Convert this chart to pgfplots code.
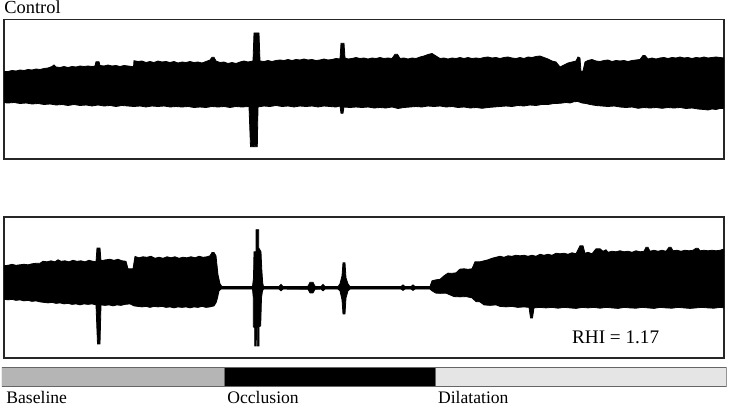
\documentclass[border=0pt]{standalone}
\usepackage{fontspec}
\setmainfont{Liberation Serif}
\usepackage{pgfplots}
\pgfplotsset{compat=1.18}
\usepgfplotslibrary{fillbetween}

% 1 px of the reference = 0.5pt
\pgfplotsset{
  trace/.style={
    scale only axis, width=360pt, xmin=4, xmax=724,
    ticks=none, axis line style={black!85, line width=0.9pt},
    anchor=south west,
  },
  env/.style={black, line width=0.4pt},
}

\begin{document}
\begin{tikzpicture}

% ---- Control ----
\begin{axis}[trace, height=69.75pt, at={(2pt,-79.5pt)}, ymin=-71, ymax=68.5]
\addplot[env, name path=up] table {
x y
4 16.3
8 16.5
12 17.5
16 17
20 18
24 17.5
28 18.5
32 18
36 19
40 18.5
44 19.5
48 20
52 21.5
54 23
56 21
60 20.5
64 21.5
68 20.5
72 21.5
76 21
80 22
84 21.5
88 22
92 21.5
95 22
96 26.3
99 26.3
100 22.5
104 22
108 23
112 22
116 22.5
120 21.5
124 22.5
128 22
132 21.5
133.5 21
134 27.3
138 26.5
142 27
146 25.5
150 26.5
154 25.5
158 27
162 26
166 26.5
170 25.5
174 26.5
178 25
182 26
186 25.5
190 26.5
194 25.5
198 26
202 25
206 26.5
210 28
212 30.7
214 30.7
216 27
220 25.5
224 26
228 24.5
232 25.5
236 24.5
240 26
244 27
248 26
253 27
254 55
259 55
260 27
264 26.5
268 27.5
272 26.5
276 27.5
280 28
284 27.5
288 28.5
292 27.5
296 28.5
300 28
304 29
308 28
312 28.5
316 27.5
320 28
324 29
328 28
332 28.5
336 29.5
340 29
341 44.7
344 44.7
345 30
348 29
352 29.5
356 30.5
360 29.5
364 30
368 29
372 30
376 29.5
380 30.5
384 29.5
388 30
392 29.5
395 33.7
397.5 33.7
400 29.5
404 30
408 29
412 30
416 29.5
420 31
424 32
428 33.5
432 34.5
436 32
440 29.5
444 30
448 29
452 30
456 29.5
460 30.5
464 29.5
468 30.5
472 29.5
476 30
480 29.5
484 30.5
488 31
492 30
496 30.5
500 29.5
504 30.5
508 31
512 30
516 29.5
520 30.5
524 29.5
528 31
532 30.5
536 31.5
540 32
544 30.5
548 29
552 27
556 26
560 21
564 23
568 25
572 26
576 27
578 31
580 30
581 16.3
583 17
585 26
588 27.5
592 28.5
596 27
600 26.5
604 27.5
608 28
612 26.5
616 27.5
620 27
624 27.5
628 26.5
632 27.5
636 28
640 28.5
643 32.5
645 32.5
648 29
652 30
656 29
660 30
664 30.5
668 29.5
672 30.5
676 30
680 31
684 30
688 30.5
692 29.5
696 30.5
700 30
704 31
708 30
712 30.5
716 31
720 30.5
724 30
};
\addplot[env, name path=lo] table {
x y
4 -14.7
8 -15
14 -14.5
20 -15.5
26 -15
32 -16
38 -15.5
44 -16.5
50 -16
56 -17
62 -16.5
68 -17.5
74 -16.5
80 -17.5
86 -17
92 -18
98 -17
104 -18
110 -17.5
116 -18.5
122 -17.5
128 -18
134 -18.5
140 -18
146 -19
152 -18
158 -18.5
164 -18
170 -19
176 -18.5
182 -19
188 -18.5
194 -19.5
200 -19
206 -19.5
212 -18.5
218 -19
224 -18.5
230 -19.5
236 -18.5
242 -19
249 -18.5
250.5 -58.7
253.3 -58.7
253.8 -40
254.3 -58.7
257.3 -58.7
258 -19
264 -18
270 -18.5
276 -17.5
282 -18.5
288 -18
294 -19
300 -18
306 -18.5
312 -18
318 -19
324 -18
330 -18.5
336 -19
340 -18
341 -25.3
343 -25.3
344 -19
350 -19.5
356 -19
362 -19.5
368 -19
374 -20
380 -19.5
386 -20
392 -19
398 -20.5
404 -19.5
410 -19
416 -18.5
422 -19
428 -18
434 -18.5
440 -18
446 -19
452 -18.5
458 -19.5
464 -19
470 -20
476 -19.5
482 -20.3
488 -19.5
494 -19
500 -18.5
506 -18
512 -18.5
518 -17.5
524 -18
530 -17
536 -17.5
542 -16.5
548 -16.5
554 -15.5
560 -15.3
566 -14.5
570 -15
574 -13.7
578 -13.5
582 -15
586 -15.5
590 -16.5
596 -17.5
602 -18
608 -18.5
614 -18
620 -19
626 -19.5
632 -19
638 -20.3
644 -19.5
650 -20
656 -19.5
662 -20.3
668 -19.5
674 -20
680 -19.5
686 -20.5
692 -20
698 -21
704 -21.5
708 -22
712 -21
716 -21.5
720 -20.5
724 -20.3
};
\addplot[black] fill between[of=up and lo];
\end{axis}

% ---- RHI panel ----
\begin{axis}[trace, height=70.5pt, at={(2pt,-178.85pt)}, ymin=-69.7, ymax=71]
\addplot[env, name path=up] table {
x y
4 22
8 22.5
12 23.5
16 22.5
20 23
24 23.5
28 23
32 24
36 24.5
40 24.5
43 26.5
47 26
51 27
55 26
58 28
61 26.5
65 27
69 26
73 27.5
77 26.5
81 27
85 26
89 27.5
93 26.5
96 26
97 39.7
100 39.7
101 27
106 28
110 28.5
114 27.5
118 28.5
122 27
126 26.5
128 19
133 19
135 31.3
139 30
143 31
147 30.5
151 31.5
155 29.5
159 30.5
163 29.5
167 31
171 30
175 31
179 29.5
183 30.5
187 30
191 31
195 30
199 31.5
203 30.5
207 31
210 32
212 35.3
214 35.3
216 32
218 13
220 4
222 1.2
252.5 1.2
253.5 10
254 36
256 36
256 58
258.7 58
258.7 40
261 36
261.7 20
262.7 5
263.5 1.2
279 1.2
281 3.5
283 1.2
300 1.2
308 1.5
310 5.5
313 5.5
315 1.5
321 1.2
323 3.5
325 1.2
338 1.2
340 4
342 12
343 25
345 25
346 10
348 4
350 1.2
401 1.2
403 3
405 1.2
411 1.2
413 3
415 1.2
430 1.2
432 7
436 8
440 8.5
444 12
448 14.7
452 14.5
456 15
460 18.7
464 19
468 18.5
472 19
475 26
480 26
484 27
488 28
492 29.5
496 30.5
500 31.5
504 30.5
508 32
512 31.5
516 32.5
520 32
524 32.5
528 31.5
532 32.5
536 31.5
540 33.5
544 32.5
548 33.5
552 32.5
556 34.5
560 34
564 34.5
568 33.5
572 35
576 34
580 42
583 42
585 34.5
588 35.5
592 34
596 39
600 39
603 36.5
606 38
608 35.5
612 36.5
616 36
620 37
624 36
628 36.5
632 35.5
636 37
640 36
644 36.5
646 40.5
648 40.5
650 36.5
654 37.5
658 36.5
662 37.5
666 36.5
669 40.5
671 40.5
673 37
677 37.5
681 36.5
685 37.5
689 37
693 37.5
696 39.5
698 39.5
700 37
704 37.5
708 37
712 37.5
716 37
720 37.5
723 38.5
724 37.5
};
\addplot[env, name path=lo] table {
x y
4 -11.3
8 -12
12 -11.5
16 -12.5
20 -12
24 -13
28 -12.5
32 -13.5
36 -13
40 -14
44 -14.5
48 -15
52 -14.5
56 -15.5
60 -15
64 -16
68 -15.5
72 -16.5
76 -16
80 -17
84 -16
88 -16.5
92 -16
96 -17
97.5 -56
100 -56
101 -17
105 -17.5
109 -17
113 -18
117 -17
121 -17.5
125 -16.5
130 -16
134 -18
138 -18.5
142 -19
146 -18.5
150 -19.5
154 -18.5
158 -19
162 -18.5
166 -19.5
170 -19
174 -20
178 -19
182 -19.5
186 -19
190 -20
194 -19
198 -19.5
202 -18.5
206 -19.5
210 -19
214 -18
216 -15
217.5 -10
219 -3
221 -1.2
252.5 -1.2
253.3 -10
253.3 -38.7
254.7 -40
254.7 -58
256 -58
256.3 -40
257.3 -40
257.3 -58
259 -58
259 -38.7
260.7 -38
261.5 -10
262.5 -3
263.5 -1.2
279 -1.2
281 -3
283 -1.2
308 -1.5
310 -5
313 -5
315 -1.5
321 -1.2
323 -3
325 -1.2
338 -1.2
340 -3
342 -12
343 -26
345 -26
346 -10
348 -3
350 -1.2
401 -1.2
403 -2.5
405 -1.2
411 -1.2
413 -2.5
415 -1.2
430 -1.2
432 -3
436 -5.3
440 -5.5
446 -5.3
450 -7
454 -8.7
460 -9
466 -8.7
472 -10
476 -13.7
480 -14
484 -17
490 -17.5
496 -17
500 -18.5
506 -19
512 -18.5
518 -19.5
524 -19
529 -19.5
530.5 -30
532.5 -30
534 -20
540 -19.5
546 -20
552 -19.5
558 -20.3
564 -19.5
570 -20
576 -20.5
582 -19.5
588 -20
594 -19.5
600 -20.3
606 -19.5
612 -20
618 -20.5
624 -19.5
630 -20
636 -20.3
642 -19.5
648 -20
654 -20.5
660 -19.5
666 -20
672 -20.3
678 -19.5
684 -20
690 -20.5
696 -20
702 -19.5
708 -20
714 -20.3
720 -19.5
724 -20
};
\addplot[black] fill between[of=up and lo];
\end{axis}

% ---- phase bar ----
\begin{axis}[scale only axis, width=362.35pt, height=9.5pt, at={(1pt,-193.35pt)},
  anchor=south west, xbar stacked, bar width=9.5pt,
  xmin=0, xmax=724.7, ymin=-0.5, ymax=0.5, hide axis]
\addplot[fill=black!29, draw=black!60, line width=0.5pt] coordinates {(222,0)};
\addplot[fill=black, draw=black!60, line width=0.5pt] coordinates {(211.7,0)};
\addplot[fill=black!10, draw=black!60, line width=0.5pt] coordinates {(291,0)};
\end{axis}

\node[anchor=base west, inner sep=0pt, font=\fontsize{9.2}{10}\selectfont] at (2pt,-7pt) {Control};
\node[anchor=base west, inner sep=0pt, font=\fontsize{9.6}{11}\selectfont] at (285.85pt,-171.65pt) {RHI = 1.17};
\node[anchor=base west, inner sep=0pt, font=\fontsize{8.8}{10}\selectfont] at (3pt,-201.65pt) {Baseline};
\node[anchor=base west, inner sep=0pt, font=\fontsize{8.8}{10}\selectfont] at (113.5pt,-201.65pt) {Occlusion};
\node[anchor=base west, inner sep=0pt, font=\fontsize{8.8}{10}\selectfont] at (218.85pt,-201.65pt) {Dilatation};
\path (0,0) rectangle (365pt,-203pt);
\end{tikzpicture}
\end{document}
